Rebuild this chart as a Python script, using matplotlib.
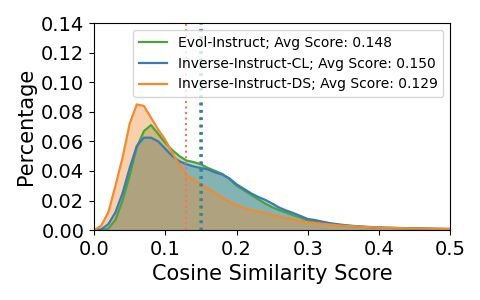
import numpy as np
import matplotlib.pyplot as plt

# cosine similarity bins (step 0.01)
scores = np.round(np.arange(0, 0.51, 0.01), 2)

evol = [0.000, 0.000, 0.001, 0.007, 0.020, 0.037, 0.056, 0.067, 0.071, 0.065,
        0.059, 0.054, 0.050, 0.047, 0.046, 0.0445, 0.042, 0.040, 0.038, 0.0345,
        0.030, 0.027, 0.024, 0.021, 0.018, 0.0155, 0.0135, 0.0118, 0.0100, 0.0085,
        0.0065, 0.0058, 0.0050, 0.0042, 0.0036, 0.0031, 0.0027, 0.0024, 0.0021, 0.0019,
        0.0017, 0.0015, 0.0014, 0.0013, 0.0012, 0.0011, 0.0010, 0.0009, 0.0008, 0.0008,
        0.0007]
inv_cl = [0.000, 0.0005, 0.004, 0.012, 0.025, 0.042, 0.057, 0.0625, 0.0625, 0.060,
          0.055, 0.050, 0.0465, 0.0445, 0.043, 0.042, 0.041, 0.039, 0.0375, 0.035,
          0.031, 0.028, 0.025, 0.0225, 0.0205, 0.0180, 0.0152, 0.0132, 0.0115, 0.0095,
          0.0075, 0.0068, 0.0058, 0.0048, 0.0041, 0.0035, 0.0030, 0.0026, 0.0023, 0.0020,
          0.0018, 0.0016, 0.0015, 0.0014, 0.0013, 0.0012, 0.0011, 0.0010, 0.0009, 0.0008,
          0.0008]
inv_ds = [0.000, 0.003, 0.012, 0.030, 0.049, 0.072, 0.085, 0.084, 0.076, 0.068,
          0.061, 0.052, 0.044, 0.037, 0.034, 0.031, 0.028, 0.025, 0.022, 0.019,
          0.017, 0.015, 0.0135, 0.0128, 0.0115, 0.0103, 0.0090, 0.0080, 0.0072, 0.0062,
          0.0052, 0.0048, 0.0043, 0.0038, 0.0033, 0.0030, 0.0027, 0.0024, 0.0021, 0.0019,
          0.0017, 0.0015, 0.0014, 0.0013, 0.0012, 0.0011, 0.0010, 0.0009, 0.0008, 0.0008,
          0.0007]

series = [
    ('Evol-Instruct', evol, 0.148, '#4aa33a'),
    ('Inverse-Instruct-CL', inv_cl, 0.150, '#3a7ab8'),
    ('Inverse-Instruct-DS', inv_ds, 0.129, '#f28a30'),
]

fig = plt.figure(figsize=(4.8, 3), dpi=100)
ax = fig.add_axes([0.196, 0.233, 0.742, 0.69])

for name, vals, avg, col in series:
    ax.plot(scores, vals, color=col, lw=1.6,
            label=f'{name}; Avg Score: {avg:.3f}')
    ax.fill_between(scores, vals, color=col, alpha=0.4, lw=0)

# average lines
ax.axvline(0.129, color='#ff6f5a', ls=':', lw=1.5)
ax.axvline(0.148, color='#4aa33a', ls=':', lw=2)
ax.axvline(0.150, color='#3a7ab8', ls=':', lw=2)

ax.set_xlim(0, 0.5)
ax.set_ylim(0, 0.14)
ax.set_xticks(np.arange(0, 0.51, 0.1))
ax.set_yticks(np.arange(0, 0.141, 0.02))
ax.tick_params(labelsize=14)
ax.set_xlabel('Cosine Similarity Score', fontsize=15)
ax.set_ylabel('Percentage', fontsize=15)
ax.legend(loc='upper right', fontsize=10)

fig.savefig('out.png')
